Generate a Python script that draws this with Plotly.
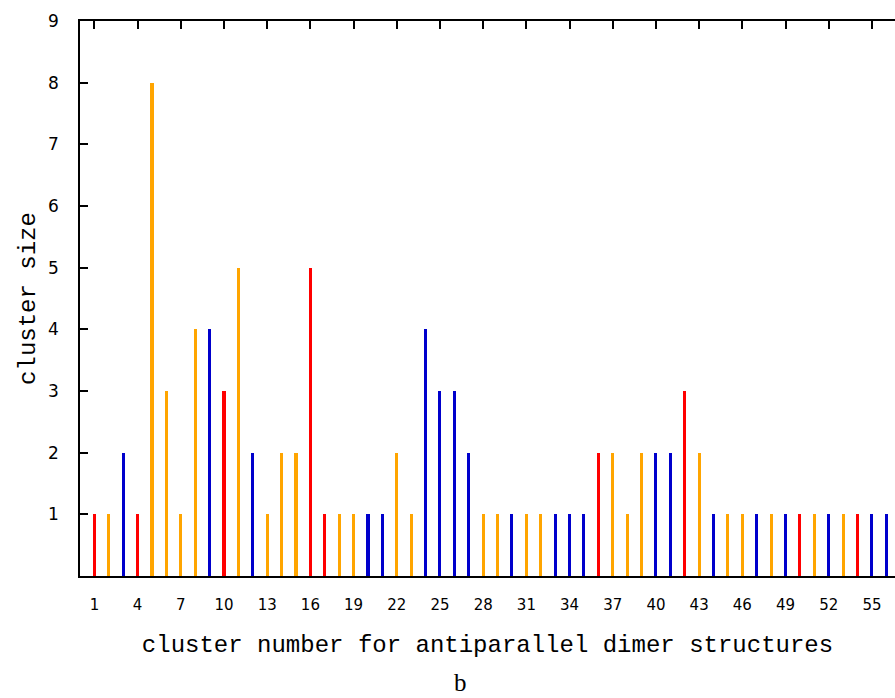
import plotly.graph_objects as go

clusters = list(range(1, 57))
sizes = [1, 1, 2, 1, 8, 3, 1, 4, 4, 3,
         5, 2, 1, 2, 2, 5, 1, 1, 1, 1,
         1, 2, 1, 4, 3, 3, 2, 1, 1, 1,
         1, 1, 1, 1, 1, 2, 2, 1, 2, 2,
         2, 3, 2, 1, 1, 1, 1, 1, 1, 1,
         1, 1, 1, 1, 1, 1]
groups = ["r", "o", "b", "r", "o", "o", "o", "o", "b", "r",
          "o", "b", "o", "o", "o", "r", "r", "o", "o", "b",
          "b", "o", "o", "b", "b", "b", "b", "o", "o", "b",
          "o", "o", "b", "b", "b", "r", "o", "o", "o", "b",
          "b", "r", "o", "b", "o", "o", "b", "o", "b", "r",
          "o", "b", "o", "r", "b", "b"]
group_colors = {"r": "#ff0000", "o": "#ffa500", "b": "#0000cc"}
x_ticks = list(range(1, 56, 3))
y_ticks = list(range(1, 10))

fig = go.Figure()
for g, col in group_colors.items():
    xs = [c for c, gg in zip(clusters, groups) if gg == g]
    ys = [s for s, gg in zip(sizes, groups) if gg == g]
    fig.add_trace(go.Bar(x=xs, y=ys, width=0.21, marker=dict(color=col, line=dict(width=0)),
                         showlegend=False))

mono = "Liberation Mono"
sans = "DejaVu Sans"
fig.update_layout(
    width=895, height=698,
    margin=dict(l=80, r=0, t=21, b=122),
    plot_bgcolor="white", paper_bgcolor="white",
    bargap=0,
    xaxis=dict(range=[0, 56.6], tickvals=x_ticks, ticktext=[str(v) for v in x_ticks],
               ticks="inside", ticklen=8, tickwidth=1.5, tickcolor="black",
               showline=True, linecolor="black", linewidth=1.5, mirror="ticks",
               layer="below traces",
               showgrid=False, zeroline=False, ticklabelstandoff=14,
               tickfont=dict(family=sans, size=15, color="black"),
               title=dict(text="cluster number for antiparallel dimer structures",
                          font=dict(family=mono, size=24, color="black"), standoff=22)),
    yaxis=dict(range=[0, 9], tickvals=y_ticks,
               ticks="inside", ticklen=8, tickwidth=1.5, tickcolor="black",
               showline=True, linecolor="black", linewidth=1.5,
               showgrid=False, zeroline=False, ticklabelstandoff=16,
               tickfont=dict(family=sans, size=17, color="black"),
               title=dict(text="cluster size", font=dict(family=mono, size=24, color="black"),
                          standoff=6)),
    yaxis2=dict(range=[0, 9], overlaying="y", side="right", tickvals=y_ticks,
                ticks="inside", ticklen=8, tickwidth=1.5, tickcolor="black",
                showticklabels=False, showline=False, showgrid=False, zeroline=False),
    annotations=[dict(text="b", xref="paper", yref="paper", x=0.467, y=-0.192,
                      xanchor="center", yanchor="middle", showarrow=False,
                      font=dict(family="Liberation Serif", size=25, color="black"))],
)
fig.write_html("out.html")
